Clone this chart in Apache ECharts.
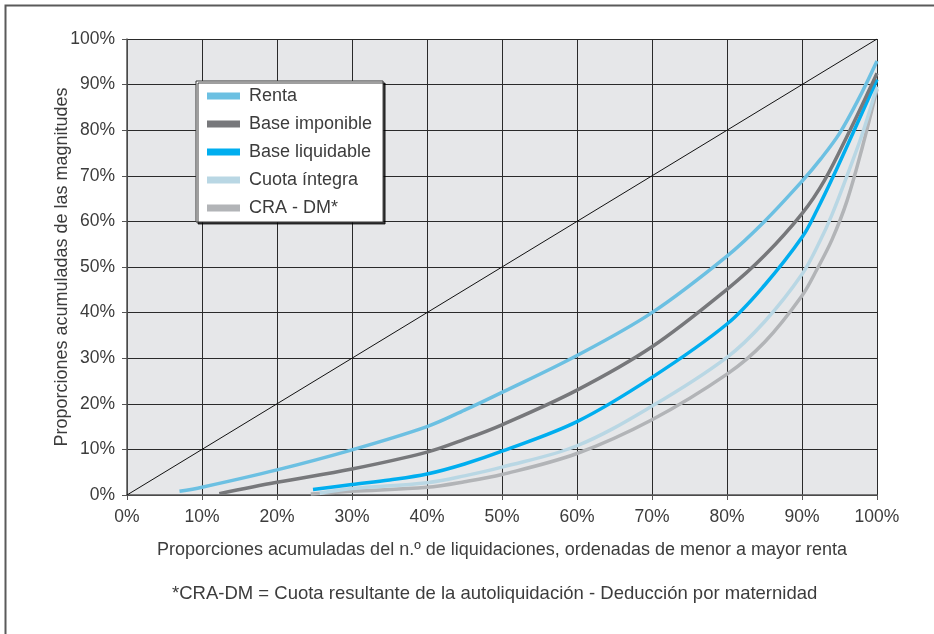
<!DOCTYPE html>
<html>
<head>
<meta charset="utf-8">
<script src="https://cdn.jsdelivr.net/npm/echarts@6/dist/echarts.min.js"></script>
<style>html,body{margin:0;padding:0;background:#fff}#c{width:934px;height:634px}</style>
</head>
<body>
<div id="c"></div>
<script>
var seriesNames = ['Renta', 'Base imponible', 'Base liquidable', 'Cuota íntegra', 'CRA - DM*'];
var rentaX = [7, 10, 20, 30, 40, 45, 50, 60, 70, 80, 85, 90, 92.5, 95, 97.5, 100];
var rentaY = [0.8, 1.7, 5.5, 9.9, 15, 18.6, 22.5, 30.6, 40, 52.4, 60, 68.8, 73.7, 79.3, 86.7, 95.2];
var baseImpX = [12.3, 20, 30, 40, 45, 50, 60, 70, 80, 85, 90, 93, 96.4, 99.3, 100];
var baseImpY = [0.3, 2.8, 5.7, 9.4, 12.2, 15.4, 23, 32.5, 45.1, 52.5, 61.7, 69, 80, 90, 92.5];
var baseLiqX = [24.8, 30, 35, 40, 45, 50, 60, 70, 80, 85, 90, 92, 94.2, 97.1, 100];
var baseLiqY = [1.2, 2.3, 3.3, 4.6, 6.8, 9.6, 16.1, 25.8, 37.5, 46, 56.5, 62.5, 70, 80.5, 91.1];
var cuotaX = [25.7, 30, 40, 45, 50, 60, 70, 80, 85, 90, 92.4, 94, 96, 98, 100];
var cuotaY = [0.4, 1.4, 2.7, 4.2, 6.1, 10.8, 19.5, 30.2, 38, 48.4, 55.7, 61.5, 70, 79, 89.6];
var craX = [24.5, 30, 40, 45, 50, 60, 70, 80, 85, 90, 92, 94, 96, 98, 100];
var craY = [0.2, 0.8, 1.7, 2.9, 4.5, 9.1, 16.5, 26.5, 33.5, 43.7, 49.5, 56, 64.5, 76, 89];
var diagX = [0, 100];
var diagY = [0, 100];
var xAxisName = 'Proporciones acumuladas del n.º de liquidaciones, ordenadas de menor a mayor renta';
var yAxisName = 'Proporciones acumuladas de las magnitudes';
var footnote = '*CRA-DM = Cuota resultante de la autoliquidación - Deducción por maternidad';

var colors = ['#6cc0e2', '#77787b', '#00aeef', '#b9d7e4', '#b2b4b7'];
function pairs(xs, ys) { return xs.map(function (x, i) { return [x, ys[i]]; }); }
var dataSets = [pairs(rentaX, rentaY), pairs(baseImpX, baseImpY), pairs(baseLiqX, baseLiqY), pairs(cuotaX, cuotaY), pairs(craX, craY)];
var FONT = 'Liberation Sans';
var TXT = '#3c3c3c';
var drawOrder = [4, 3, 2, 1, 0];
var series = [{
  type: 'line', data: pairs(diagX, diagY), showSymbol: false, silent: true,
  lineStyle: { color: '#111', width: 1 }, z: 2
}];
drawOrder.forEach(function (i) {
  series.push({
    name: seriesNames[i], type: 'line', data: dataSets[i], smooth: 0.35,
    showSymbol: false, lineStyle: { color: colors[i], width: 3.5, cap: 'butt' },
    itemStyle: { color: colors[i] }, z: 3
  });
});

var chart = echarts.init(document.getElementById('c'), null, { renderer: 'canvas' });
chart.setOption({
  animation: false,
  textStyle: { fontFamily: FONT },
  grid: { left: 127, right: 57, top: 39, bottom: 139, show: true, backgroundColor: '#e6e7e9', borderWidth: 0 },
  legend: {
    data: seriesNames, orient: 'vertical', left: 196, top: 81,
    icon: 'rect', itemWidth: 33, itemHeight: 7, itemGap: 10,
    padding: [6, 11, 5, 11],
    backgroundColor: '#fff', borderColor: '#333', borderWidth: 1,
    shadowColor: 'rgba(0,0,0,0.75)', shadowOffsetX: 2, shadowOffsetY: 2, shadowBlur: 0,
    textStyle: { fontFamily: FONT, fontSize: 18, color: TXT, lineHeight: 18, padding: [0, 0, 0, 4] }
  },
  xAxis: {
    type: 'value', min: 0, max: 100, interval: 10,
    name: xAxisName, nameLocation: 'middle', nameGap: 46,
    nameTextStyle: { fontFamily: FONT, fontSize: 18, color: TXT },
    axisLine: { show: true, lineStyle: { color: '#555', width: 1.5 } },
    axisTick: { show: true, length: 5, lineStyle: { color: '#555' } },
    axisLabel: { formatter: '{value}%', fontFamily: FONT, fontSize: 17.5, color: TXT, margin: 13 },
    splitLine: { show: true, lineStyle: { color: '#2a2a2a', width: 1 } }
  },
  yAxis: {
    type: 'value', min: 0, max: 100, interval: 10,
    name: yAxisName, nameLocation: 'middle', nameGap: 56, nameMoveOverlap: false,
    nameTextStyle: { fontFamily: FONT, fontSize: 18, color: TXT },
    axisLine: { show: true, lineStyle: { color: '#555', width: 1.5 } },
    axisTick: { show: true, length: 5, lineStyle: { color: '#555' } },
    axisLabel: { formatter: '{value}%', fontFamily: FONT, fontSize: 17.5, color: TXT, margin: 12 },
    splitLine: { show: true, lineStyle: { color: '#2a2a2a', width: 1 } }
  },
  graphic: [
    { type: 'rect', left: 3, top: 3, shape: { width: 1000, height: 1000 }, style: { fill: 'none', stroke: '#5a5a5a', lineWidth: 2 }, silent: true },
    { type: 'text', left: 172, top: 584, style: { text: footnote, fontFamily: FONT, fontSize: 18.5, fill: TXT } }
  ],
  series: series
});
</script>
</body>
</html>
